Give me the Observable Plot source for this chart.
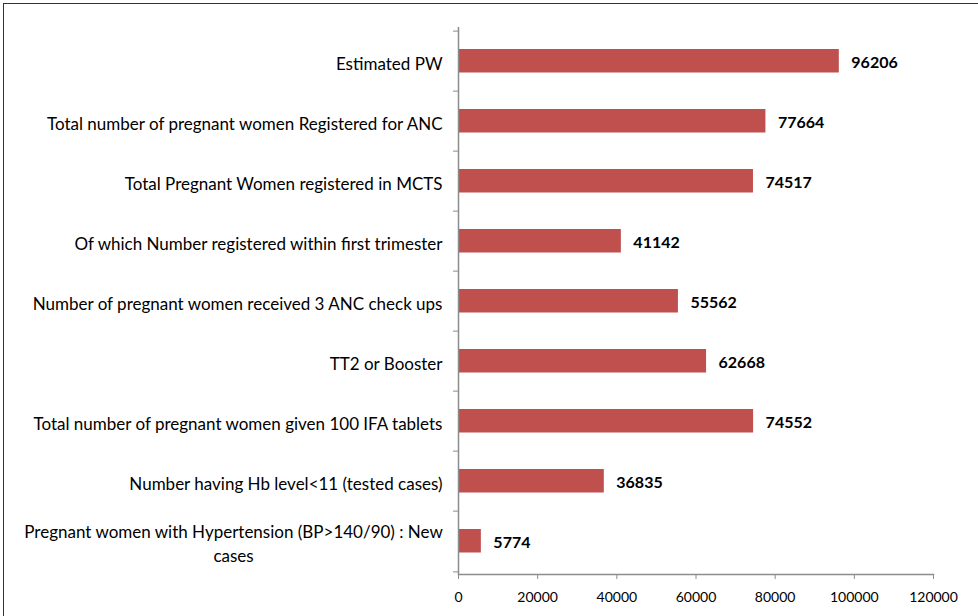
<!DOCTYPE html>
<html>
<head>
<meta charset="utf-8">
<script src="https://cdn.jsdelivr.net/npm/d3@7"></script>
<script src="https://cdn.jsdelivr.net/npm/@observablehq/plot@0.6"></script>
<style>
  html, body { margin: 0; padding: 0; background: #fff; overflow: hidden; }
  #frame { position: absolute; left: 3px; top: 3px; width: 1100px; height: 800px; border: 1.5px solid #333; box-sizing: border-box; }
  #chart { position: absolute; left: 0; top: 0; }
</style>
</head>
<body>
<div id="frame"></div>
<div id="chart"></div>
<script>
const categories = [
  "Estimated PW",
  "Total number of pregnant women Registered for ANC",
  "Total Pregnant Women registered in MCTS",
  "Of which Number registered within first trimester",
  "Number of pregnant women received 3 ANC check ups",
  "TT2 or Booster",
  "Total number of pregnant women given 100 IFA tablets",
  "Number having Hb level<11 (tested cases)",
  "Pregnant women with Hypertension (BP>140/90) : New\ncases"
];
const values = [96206, 77664, 74517, 41142, 55562, 62668, 74552, 36835, 5774];
const xTicks = [0, 20000, 40000, 60000, 80000, 100000, 120000];

const data = categories.map((c, i) => ({category: c, value: values[i]}));

const W = 978, H = 616;
const mL = 458, mR = 45, mT = 27, mB = 42;
const step = (H - mT - mB) / categories.length;
const font = "Lato, 'Open Sans', sans-serif";
const axisColor = "#8c8c8c";

const chart = Plot.plot({
  width: W,
  height: H,
  marginLeft: mL,
  marginRight: mR,
  marginTop: mT,
  marginBottom: mB,
  style: {fontFamily: font, fontSize: "16px", color: "#000", background: "transparent", overflow: "visible"},
  x: {domain: [0, 120000], ticks: xTicks},
  y: {domain: categories, padding: 0},
  marks: [
    Plot.barX(data, {x: "value", y: "category", fill: "#C0504D", insetTop: 18, insetBottom: 18.5}),
    Plot.text(data, {x: "value", y: "category", text: d => String(d.value), dx: 12, dy: 1, textAnchor: "start", fontWeight: "bold", fontSize: 16, fill: "#000"}),
    Plot.ruleX([0], {stroke: axisColor, strokeWidth: 1.5}),
    Plot.frame({anchor: "bottom", stroke: axisColor, strokeWidth: 1.5}),
    Plot.axisY({tickSize: 5, dy: -step / 2, text: null, stroke: axisColor, label: null}),
    Plot.axisY({ticks: [categories[categories.length - 1]], tickSize: 5, dy: step / 2, text: null, stroke: axisColor, label: null}),
    Plot.axisY({tickSize: 0, tickPadding: 16, dy: 1, label: null, fontSize: 17, fill: "#000", lineHeight: 1.42}),
    Plot.axisX({ticks: xTicks, tickSize: 5, tickPadding: 13, stroke: axisColor, label: null, fontSize: 14, fill: "#000", tickFormat: d => String(d)})
  ]
});
document.getElementById("chart").appendChild(chart);

// centre the wrapped (multi-line) category label under its first line
d3.select(chart).selectAll("text").each(function() {
  const t = d3.select(this);
  const spans = t.selectAll("tspan");
  if (spans.size() > 1) {
    const bb = this.getBBox();
    const cx = bb.x + bb.width / 2;
    t.attr("text-anchor", "middle");
    spans.attr("x", cx);
  }
});
</script>
</body>
</html>
